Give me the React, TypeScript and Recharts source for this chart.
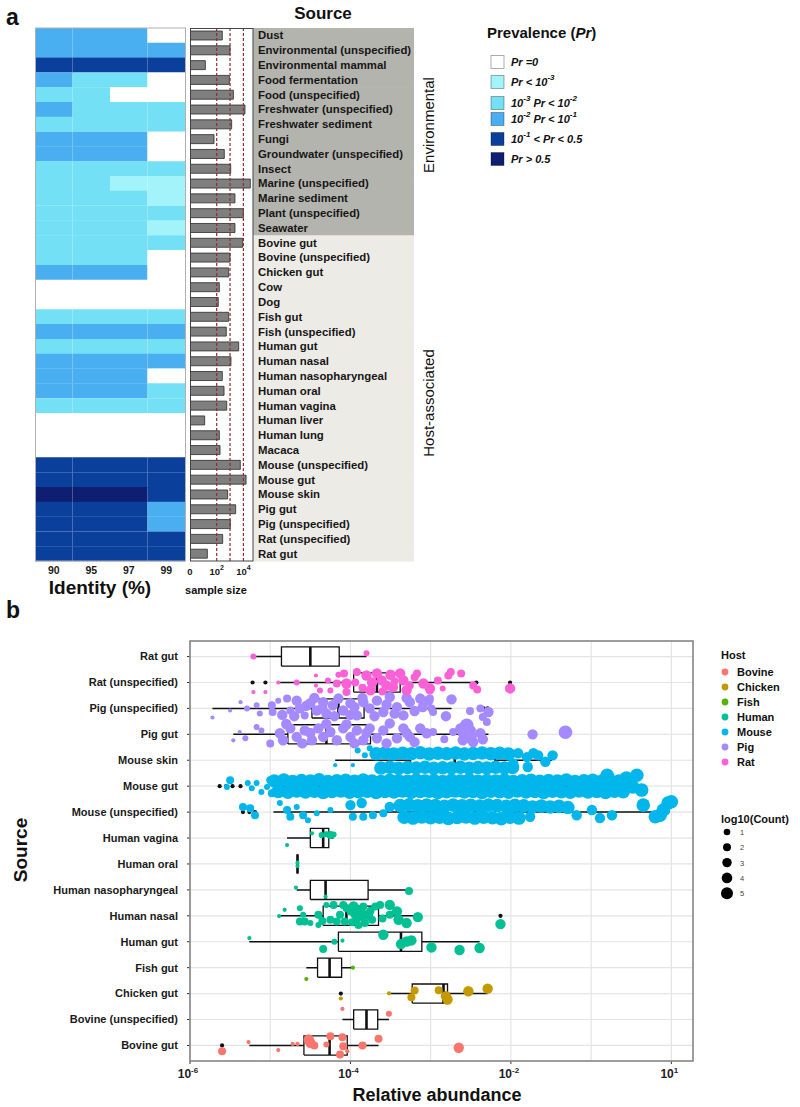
import React from 'react';
import {
  BarChart, Bar, Cell, XAxis, YAxis, ReferenceLine,
  ScatterChart, Scatter, CartesianGrid,
} from 'recharts';

const FONT = '"Liberation Sans", Arial, Helvetica, sans-serif';

// ---------- panel a ----------
const SOURCES_A = [
  'Dust', 'Environmental (unspecified)', 'Environmental mammal', 'Food fermentation',
  'Food (unspecified)', 'Freshwater (unspecified)', 'Freshwater sediment', 'Fungi',
  'Groundwater (unspecified)', 'Insect', 'Marine (unspecified)', 'Marine sediment',
  'Plant (unspecified)', 'Seawater',
  'Bovine gut', 'Bovine (unspecified)', 'Chicken gut', 'Cow', 'Dog', 'Fish gut',
  'Fish (unspecified)', 'Human gut', 'Human nasal', 'Human nasopharyngeal', 'Human oral',
  'Human vagina', 'Human liver', 'Human lung', 'Macaca', 'Mouse (unspecified)', 'Mouse gut',
  'Mouse skin', 'Pig gut', 'Pig (unspecified)', 'Rat (unspecified)', 'Rat gut',
];
const ENV_COUNT = 14;
const IDENTITY = ['90', '95', '97', '99'];

// prevalence class per source (0 = Pr 0 ... 5 = Pr > 0.5)
const PREV_90 = [3, 3, 4, 3, 2, 3, 2, 3, 3, 2, 2, 2, 2, 2, 2, 2, 3, 0, 0, 2, 3, 2, 3, 3, 3, 2, 0, 0, 0, 4, 4, 5, 4, 4, 4, 4];
const PREV_95 = [3, 3, 4, 2, 2, 2, 2, 3, 3, 2, 2, 2, 2, 2, 2, 2, 3, 0, 0, 2, 3, 2, 3, 3, 3, 2, 0, 0, 0, 4, 4, 5, 4, 4, 4, 4];
const PREV_97 = [3, 3, 4, 2, 0, 2, 2, 3, 3, 2, 1, 2, 2, 2, 2, 2, 3, 0, 0, 2, 3, 2, 3, 3, 3, 2, 0, 0, 0, 4, 4, 5, 4, 4, 4, 4];
const PREV_99 = [0, 3, 4, 0, 0, 2, 2, 0, 0, 2, 1, 1, 2, 1, 2, 0, 0, 0, 0, 2, 3, 2, 3, 0, 2, 2, 0, 0, 0, 4, 4, 4, 3, 3, 4, 4];

// log10 of sample size
const SAMPLE_LOG10 = [
  2.42, 3.0, 1.15, 2.95, 3.25, 4.12, 3.12, 1.8, 2.57, 3.05, 4.52, 3.37, 4.0, 3.37,
  3.95, 3.0, 2.9, 2.2, 2.12, 2.9, 2.72, 3.65, 3.07, 2.42, 2.55, 2.75, 1.1, 2.2, 2.25,
  3.77, 4.2, 2.82, 3.42, 3.02, 2.45, 1.3,
];
const SAMPLE_TICKS = [0, 2, 4];
const SAMPLE_TICK_EXP = ['', '2', '4'];
const SAMPLE_GUIDES = [2, 3, 4];

const PREV_COLORS = ['#ffffff', '#a3f3fb', '#74e0f6', '#4aaff0', '#0b3f9c', '#0e1f72'];
type Seg = { t: string; sup?: boolean };
const PREV_LABELS: Seg[][] = [
  [{ t: 'Pr =0' }],
  [{ t: 'Pr < 10' }, { t: '-3', sup: true }],
  [{ t: '10' }, { t: '-3', sup: true }, { t: ' Pr < 10' }, { t: '-2', sup: true }],
  [{ t: '10' }, { t: '-2', sup: true }, { t: ' Pr < 10' }, { t: '-1', sup: true }],
  [{ t: '10' }, { t: '-1', sup: true }, { t: ' < Pr < 0.5' }],
  [{ t: 'Pr > 0.5' }],
];

// ---------- panel b ----------
const SOURCES_B = [
  'Bovine gut', 'Bovine (unspecified)', 'Chicken gut', 'Fish gut', 'Human gut', 'Human nasal',
  'Human nasopharyngeal', 'Human oral', 'Human vagina', 'Mouse (unspecified)', 'Mouse gut',
  'Mouse skin', 'Pig gut', 'Pig (unspecified)', 'Rat (unspecified)', 'Rat gut',
];
const HOSTS = ['Bovine', 'Chicken', 'Fish', 'Human', 'Mouse', 'Pig', 'Rat'];
const HOST_COLORS = ['#F8766D', '#C49A00', '#53B400', '#00C094', '#00B6EB', '#A58AFF', '#FB61D7'];
const X_TICKS = [-6, -4, -2, 0];
const X_TICK_EXP = ['-6', '-4', '-2', '1'];
const X_GRID = [-6, -5, -4, -3, -2, -1, 0];

// boxplot stats, log10(relative abundance)
const BOX_LO = [-5.26, -4.10, -3.52, -4.55, -5.26, -4.89, -4.67, -4.66, -4.79, -4.96, -4.97, -4.19, -5.46, -5.72, -4.90, -5.21];
const BOX_Q1 = [-4.58, -3.96, -3.23, -4.41, -4.15, -4.34, -4.50, -4.66, -4.50, -2.90, -3.45, -3.25, -4.78, -4.48, -3.96, -4.86];
const BOX_MED = [-4.26, -3.80, -2.84, -4.26, -3.37, -4.05, -4.31, -4.66, -4.34, -2.45, -2.90, -2.70, -4.30, -4.15, -3.67, -4.50];
const BOX_Q3 = [-4.04, -3.66, -2.79, -4.11, -3.11, -3.65, -3.78, -4.66, -4.27, -1.95, -2.30, -2.20, -3.75, -3.83, -3.38, -4.14];
const BOX_HI = [-3.65, -3.52, -2.29, -3.97, -2.39, -3.16, -3.27, -4.66, -4.21, -0.02, -0.45, -1.49, -2.28, -2.74, -2.43, -3.80];
const OUTLIERS = [
  [-5.60], [], [-4.12], [], [], [-2.13], [], [], [],
  [-5.34, -5.26, -5.19], [-5.63, -5.55, -5.47, -5.37], [], [], [-2.38, -2.34, -2.29],
  [-5.22, -5.06, -2.43, -2.01], [],
];

// jittered points: [log10 abundance, vertical jitter, log10(count)]
type P = [number, number, number];
const PTS_BOVINE_GUT: P[] = [[-5.60, -0.22, 3], [-5.27, 0.13, 1], [-4.90, -0.18, 1], [-4.72, 0.06, 1], [-4.66, 0.06, 1], [-4.52, 0.23, 4], [-4.50, 0.10, 4], [-4.45, 0.0, 3], [-4.30, 0.04, 2], [-4.25, 0.35, 3], [-4.10, 0.32, 3], [-4.09, -0.03, 3], [-4.13, -0.35, 3], [-4.04, -0.22, 1], [-3.85, 0.0, 3], [-3.65, 0.26, 3], [-2.65, -0.09, 4]];
const PTS_BOVINE_UNSPEC: P[] = [[-4.10, 0.41, 1], [-3.52, 0.22, 2]];
const PTS_CHICKEN_GUT: P[] = [[-4.12, -0.19, 1], [-3.52, 0.01, 1], [-3.20, 0.12, 3], [-3.24, -0.14, 3], [-2.90, 0.13, 3], [-2.81, -0.1, 4], [-2.79, -0.23, 4], [-2.53, 0.09, 4], [-2.29, 0.19, 4]];
const PTS_FISH_GUT: P[] = [[-3.97, 0.0, 1], [-4.55, -0.44, 1]];
const PTS_HUMAN_GUT: P[] = [[-5.26, 0.14, 1], [-4.20, 0.0, 2], [-4.10, 0.04, 1], [-4.34, -0.28, 3], [-3.59, 0.27, 4], [-3.37, -0.09, 4], [-3.30, 0.01, 4], [-3.24, 0.05, 4], [-2.99, -0.22, 4], [-2.64, -0.32, 4], [-2.39, -0.24, 4]];
const PTS_HUMAN_NASAL: P[] = [[-4.89, -0.01, 1], [-4.82, 0.23, 1], [-4.63, 0.29, 2], [-4.59, 0.04, 2], [-4.57, -0.22, 3], [-4.63, -0.22, 3], [-4.50, -0.28, 2], [-4.40, -0.35, 2], [-4.40, 0.04, 3], [-4.30, 0.42, 2], [-4.25, -0.15, 3], [-4.21, 0.42, 3], [-4.17, -0.22, 3], [-4.13, 0.04, 3], [-4.09, 0.42, 3], [-4.07, -0.22, 3], [-4.00, 0.17, 3], [-3.96, 0.36, 4], [-3.92, -0.09, 3], [-3.88, 0.17, 4], [-3.84, 0.36, 3], [-3.82, -0.28, 3], [-3.78, 0.04, 4], [-3.73, -0.15, 3], [-3.69, 0.36, 3], [-3.63, 0.42, 3], [-3.51, 0.42, 4], [-3.42, 0.17, 4], [-3.40, -0.15, 4], [-3.30, -0.28, 4], [-3.16, -0.05, 4], [-2.13, -0.32, 4], [-3.51, 0.04, 3], [-4.05, 0.30, 3], [-3.90, -0.35, 3], [-3.98, -0.25, 3], [-3.86, -0.05, 3], [-3.75, 0.2, 3], [-3.95, 0.05, 3], [-4.35, -0.2, 3], [-3.60, -0.1, 3]];
const PTS_HUMAN_NASOPHAR: P[] = [[-4.68, 0.09, 1], [-4.31, -0.26, 1], [-3.27, -0.04, 3]];
const PTS_HUMAN_ORAL: P[] = [[-4.66, 0.05, 1], [-4.66, -0.08, 1]];
const PTS_HUMAN_VAGINA: P[] = [[-4.79, -0.27, 1], [-4.48, 0.18, 1], [-4.36, 0.12, 2], [-4.30, 0.15, 2], [-4.25, 0.12, 3], [-4.21, 0.14, 2]];
const PTS_MOUSE_UNSPEC: P[] = [
  [-5.34, 0.2, 3], [-5.25, 0.15, 3], [-5.19, -0.12, 3], [-4.88, 0.35, 2], [-4.79, 0.08, 3], [-4.75, -0.18, 3], [-4.67, 0.2, 2], [-4.59, -0.12, 3], [-4.53, -0.31, 2], [-4.42, -0.04, 2], [-4.25, 0.08, 2], [-4.0, 0.27, 4], [-3.86, 0.35, 4], [-3.97, -0.18, 3], [-3.84, -0.18, 3], [-3.72, -0.12, 3], [-3.59, -0.04, 3], [-3.51, 0.2, 4],
  [-3.38, 0.25, 5], [-3.27, 0.28, 5], [-3.16, 0.24, 5], [-3.05, 0.27, 5], [-2.94, 0.25, 5], [-2.83, 0.22, 5], [-2.72, 0.27, 5], [-2.61, 0.24, 5], [-2.50, 0.26, 5], [-2.39, 0.23, 5], [-2.28, 0.27, 5], [-2.17, 0.25, 5], [-2.06, 0.22, 5], [-1.95, 0.26, 5], [-1.84, 0.24, 5], [-1.73, 0.2, 5], [-1.62, 0.23, 5], [-1.51, 0.2, 5], [-1.40, 0.22, 5], [-1.29, 0.18, 5],
  [-3.33, -0.2, 5], [-3.22, -0.23, 5], [-3.11, -0.19, 5], [-3.00, -0.22, 5], [-2.89, -0.2, 5], [-2.78, -0.24, 5], [-2.67, -0.21, 5], [-2.56, -0.19, 5], [-2.45, -0.23, 5], [-2.34, -0.2, 5], [-2.23, -0.22, 5], [-2.12, -0.25, 5], [-2.01, -0.2, 5], [-1.90, -0.23, 5],
  [-1.76, -0.18, 4], [-1.18, -0.12, 4], [-0.99, 0.08, 4], [-0.89, -0.23, 4], [-0.74, -0.12, 4], [-0.35, 0.27, 5], [-0.20, -0.18, 5], [-0.10, 0.08, 5], [-0.04, 0.35, 5], [0.0, 0.4, 5], [-0.14, -0.12, 5],
];
const PTS_MOUSE_GUT: P[] = [
  [-5.54, -0.03, 2], [-5.50, 0.23, 3], [-5.28, 0.12, 2], [-5.23, -0.08, 2], [-5.17, 0.12, 2], [-5.11, -0.22, 2], [-5.04, -0.03, 2], [-5.00, 0.23, 3], [-4.98, -0.27, 3],
  [-4.95, 0.2, 5], [-4.83, 0.24, 5], [-4.72, 0.18, 5], [-4.61, 0.22, 5], [-4.50, 0.2, 5], [-4.39, 0.25, 5], [-4.28, 0.18, 5], [-4.17, 0.21, 5], [-4.06, 0.23, 5], [-3.95, 0.19, 5], [-3.84, 0.24, 5], [-3.73, 0.2, 5], [-3.62, 0.18, 5], [-3.51, 0.23, 5], [-3.40, 0.21, 5], [-3.29, 0.19, 5], [-3.18, 0.24, 5], [-3.07, 0.2, 5], [-2.96, 0.22, 5], [-2.85, 0.18, 5], [-2.74, 0.23, 5], [-2.63, 0.2, 5], [-2.52, 0.25, 5], [-2.41, 0.19, 5], [-2.30, 0.22, 5], [-2.19, 0.2, 5], [-2.08, 0.24, 5], [-1.97, 0.18, 5], [-1.86, 0.21, 5], [-1.75, 0.23, 5], [-1.64, 0.19, 5], [-1.53, 0.22, 5], [-1.42, 0.2, 5], [-1.31, 0.24, 5], [-1.20, 0.18, 5], [-1.09, 0.21, 5], [-0.98, 0.23, 5], [-0.87, 0.19, 5], [-0.76, 0.22, 5], [-0.65, 0.2, 5], [-0.54, 0.18, 5],
  [-4.90, -0.2, 5], [-4.78, -0.23, 5], [-4.67, -0.18, 5], [-4.56, -0.22, 5], [-4.45, -0.19, 5], [-4.34, -0.24, 5], [-4.23, -0.2, 5], [-4.12, -0.18, 5], [-4.01, -0.23, 5], [-3.90, -0.21, 5], [-3.79, -0.19, 5], [-3.68, -0.24, 5], [-3.57, -0.2, 5], [-3.46, -0.22, 5], [-3.35, -0.18, 5], [-3.24, -0.23, 5], [-3.13, -0.2, 5], [-3.02, -0.19, 5], [-2.91, -0.24, 5], [-2.80, -0.21, 5], [-2.69, -0.18, 5], [-2.58, -0.22, 5], [-2.47, -0.2, 5], [-2.36, -0.24, 5], [-2.25, -0.19, 5], [-2.14, -0.21, 5], [-2.03, -0.23, 5], [-1.92, -0.18, 5], [-1.81, -0.22, 5], [-1.70, -0.2, 5], [-1.59, -0.24, 5], [-1.48, -0.19, 5], [-1.37, -0.21, 5], [-1.26, -0.23, 5], [-1.15, -0.18, 5], [-1.04, -0.22, 5], [-0.93, -0.2, 5], [-0.82, -0.24, 5], [-0.71, -0.19, 5], [-0.60, -0.21, 5],
  [-0.43, 0.42, 5], [-0.37, -0.15, 5], [-0.48, -0.03, 5], [-0.56, 0.31, 5], [-0.64, 0.12, 5], [-0.80, 0.42, 5],
];
const PTS_MOUSE_SKIN: P[] = [
  [-3.91, 0.38, 2], [-3.76, 0.46, 2], [-3.82, 0.19, 2], [-4.19, -0.19, 1], [-3.97, -0.19, 1],
  [-3.68, 0.25, 5], [-3.57, 0.28, 5], [-3.46, 0.24, 5], [-3.35, 0.27, 5], [-3.24, 0.25, 5], [-3.13, 0.29, 5], [-3.02, 0.24, 5], [-2.91, 0.27, 5], [-2.80, 0.25, 5], [-2.69, 0.28, 5], [-2.58, 0.24, 5], [-2.47, 0.26, 5], [-2.36, 0.28, 5], [-2.25, 0.25, 5], [-2.14, 0.27, 5], [-2.03, 0.24, 5],
  [-3.62, -0.3, 5], [-3.51, -0.27, 5], [-3.40, -0.31, 5], [-3.29, -0.28, 5], [-3.18, -0.3, 5], [-3.07, -0.27, 5], [-2.96, -0.31, 5], [-2.85, -0.29, 5], [-2.74, -0.3, 5], [-2.63, -0.27, 5], [-2.52, -0.31, 5], [-2.41, -0.28, 5], [-2.30, -0.3, 5], [-2.19, -0.27, 5], [-2.08, -0.3, 5], [-1.98, -0.28, 5],
  [-1.91, 0.27, 4], [-1.80, 0.12, 4], [-1.72, 0.27, 4], [-1.66, 0.19, 4], [-1.57, -0.06, 4], [-1.48, 0.19, 4], [-1.97, -0.12, 4], [-1.79, -0.26, 4],
];
const PTS_PIG_GUT: P[] = [
  [-5.46, -0.23, 1], [-5.38, 0.09, 1], [-5.31, -0.15, 2], [-5.17, 0.28, 2], [-5.11, 0.15, 2], [-5.00, -0.35, 3], [-4.88, 0.04, 4], [-4.84, -0.23, 4], [-4.75, 0.23, 4], [-4.67, -0.1, 4], [-4.57, 0.15, 4], [-4.48, -0.23, 4], [-4.40, 0.23, 4], [-4.34, -0.1, 4], [-4.25, 0.09, 4], [-4.17, -0.23, 4], [-4.09, 0.23, 4], [-4.00, -0.1, 4], [-3.92, 0.15, 4], [-3.84, -0.23, 4], [-3.76, 0.23, 4], [-3.67, -0.15, 4], [-3.59, 0.15, 4], [-3.51, 0.42, 4], [-3.42, -0.15, 4], [-3.34, 0.23, 4], [-3.26, -0.1, 4], [-3.13, 0.23, 4], [-3.05, 0.04, 4], [-2.97, 0.09, 3], [-2.83, -0.19, 3], [-2.72, 0.09, 3], [-2.63, 0.23, 4], [-2.55, 0.35, 5], [-2.51, -0.1, 5], [-2.60, -0.23, 4], [-2.47, -0.3, 4], [-2.38, 0.04, 4], [-2.35, -0.19, 4], [-1.73, 0.0, 4], [-1.32, 0.08, 5],
  [-4.80, 0.4, 4], [-4.60, -0.35, 4], [-4.30, 0.4, 4], [-4.05, 0.38, 4], [-3.80, 0.05, 4], [-3.55, -0.35, 4], [-3.30, 0.05, 4], [-3.20, -0.3, 4], [-4.50, 0.05, 4], [-3.95, -0.35, 4], [-2.60, 0.05, 4], [-2.50, 0.15, 4],
];
const PTS_PIG_UNSPEC: P[] = [
  [-5.72, -0.35, 1], [-5.50, -0.08, 1], [-5.37, 0.24, 1], [-5.29, 0.0, 2], [-5.17, 0.12, 2], [-5.13, -0.2, 2], [-4.98, 0.12, 3], [-4.97, -0.14, 3], [-4.90, 0.3, 2], [-4.79, 0.38, 3], [-4.75, -0.08, 3], [-4.67, 0.3, 4], [-4.63, 0.0, 4], [-4.57, -0.27, 3], [-4.50, 0.2, 4], [-4.42, -0.08, 4], [-4.34, 0.24, 4], [-4.30, -0.2, 4], [-4.22, 0.12, 4], [-4.15, 0.38, 4], [-4.09, -0.08, 4], [-4.00, 0.2, 4], [-3.92, -0.27, 4], [-3.84, 0.24, 4], [-3.76, 0.0, 4], [-3.67, 0.3, 4], [-3.59, -0.14, 4], [-3.51, 0.44, 4], [-3.42, 0.05, 4], [-3.34, -0.27, 4], [-3.26, 0.24, 4], [-3.13, 0.38, 4], [-3.03, 0.3, 4], [-2.97, -0.14, 3], [-3.01, 0.38, 3], [-2.74, 0.35, 4], [-2.99, 0.0, 3], [-2.81, -0.3, 4], [-2.51, -0.1, 3], [-2.38, 0.0, 3], [-2.28, -0.14, 4], [-2.35, -0.33, 3], [-2.30, -0.52, 3],
  [-4.85, -0.25, 4], [-4.70, -0.3, 4], [-4.45, 0.4, 4], [-4.20, -0.3, 4], [-4.00, -0.25, 4], [-3.85, 0.4, 4], [-3.70, -0.3, 4], [-3.55, 0.15, 4], [-3.30, 0.4, 4], [-3.20, -0.1, 4], [-3.10, 0.05, 4], [-4.55, 0.1, 4], [-4.35, 0.0, 4], [-3.95, 0.05, 4], [-3.45, -0.2, 4],
];
const PTS_RAT_UNSPEC: P[] = [
  [-4.90, 0.0, 1], [-5.21, -0.37, 1], [-5.06, -0.37, 1], [-4.67, 0.0, 2], [-4.43, 0.27, 1], [-4.43, -0.12, 1], [-4.38, -0.31, 2], [-4.28, 0.08, 2], [-4.17, -0.04, 3], [-4.25, -0.31, 2], [-4.08, 0.35, 3], [-4.05, -0.04, 4], [-4.05, -0.37, 3], [-3.94, 0.0, 3], [-3.92, 0.4, 3], [-3.80, 0.27, 4], [-3.73, 0.0, 4], [-3.67, 0.35, 4], [-3.61, 0.08, 4], [-3.55, -0.12, 4], [-3.47, -0.18, 4], [-3.38, 0.35, 4], [-3.34, 0.08, 4], [-3.26, -0.12, 3], [-3.17, 0.35, 3], [-3.09, -0.04, 4], [-3.01, -0.23, 4], [-3.01, -0.31, 3], [-2.91, 0.08, 3], [-2.85, -0.23, 2], [-2.78, 0.27, 3], [-2.75, 0.4, 3], [-2.62, 0.35, 3], [-2.47, -0.12, 3], [-2.42, -0.27, 3], [-2.01, -0.23, 4],
  [-3.75, -0.3, 4], [-3.50, 0.3, 4], [-3.30, -0.3, 4], [-3.20, 0.2, 3], [-3.60, -0.35, 3], [-3.85, -0.2, 3], [-4.15, 0.3, 2], [-3.45, 0.05, 3],
];
const PTS_RAT_GUT: P[] = [[-5.21, 0.0, 2], [-3.80, 0.13, 2]];

const POINTS_B: P[][] = [
  PTS_BOVINE_GUT, PTS_BOVINE_UNSPEC, PTS_CHICKEN_GUT, PTS_FISH_GUT, PTS_HUMAN_GUT, PTS_HUMAN_NASAL,
  PTS_HUMAN_NASOPHAR, PTS_HUMAN_ORAL, PTS_HUMAN_VAGINA, PTS_MOUSE_UNSPEC, PTS_MOUSE_GUT,
  PTS_MOUSE_SKIN, PTS_PIG_GUT, PTS_PIG_UNSPEC, PTS_RAT_UNSPEC, PTS_RAT_GUT,
];

const R_PLOT = [0, 2.1, 3, 4, 5.2, 6.8];
const R_LEGEND = [3.3, 4, 4.7, 5.3, 6];
const BOX_HALF = 0.37;
const ROW_H = 533 / SOURCES_A.length;

const supSegs = (list: Seg[], supSize = 8, shift = 6) => {
  let prevSup = false;
  return list.map((s, i) => {
    const dy = s.sup ? -shift : prevSup ? shift : 0;
    prevSup = !!s.sup;
    return (
      <tspan key={i} dy={dy} fontSize={s.sup ? supSize : undefined} style={{ whiteSpace: 'pre' }}>
        {s.t}
      </tspan>
    );
  });
};

const SourceTick = (props: any) => {
  const { x, y, payload } = props;
  const i = SOURCES_A.indexOf(payload.value);
  return (
    <g>
      <rect x={x} y={y - ROW_H / 2} width={161} height={ROW_H + 0.6} fill={i < ENV_COUNT ? '#b4b4ae' : '#edebe6'} />
      <text x={x + 5} y={y + 4} fontFamily={FONT} fontSize={11.4} fontWeight="bold" fill="#161616">
        {payload.value}
      </text>
    </g>
  );
};

const SampleTick = (props: any) => {
  const { x, y, payload } = props;
  const exp = SAMPLE_TICK_EXP[SAMPLE_TICKS.indexOf(payload.value)];
  return (
    <text x={x} y={y + 12} textAnchor="middle" fontFamily={FONT} fontSize={9.5} fontWeight="bold" fill="#1a1a1a">
      {exp ? '10' : '0'}
      {exp ? <tspan dy={-5} fontSize={7}>{exp}</tspan> : null}
    </text>
  );
};

const XTickB = (props: any) => {
  const { x, y, payload } = props;
  const exp = X_TICK_EXP[X_TICKS.indexOf(payload.value)];
  return (
    <text x={x - 2} y={y + 12} textAnchor="middle" fontFamily={FONT} fontSize={12} fontWeight="bold" fill="#222">
      10<tspan dy={-5} fontSize={8}>{exp}</tspan>
    </text>
  );
};

const dotShape = (color: string) => (props: any) => {
  const { cx, cy, payload } = props;
  if (cx == null || cy == null) return <g />;
  return <circle cx={cx} cy={cy} r={R_PLOT[payload.s]} fill={color} />;
};
const noDot = () => <g />;

export default function App() {
  const rowsA = SOURCES_A.map((source, i) => ({
    source,
    codes: [PREV_90[i], PREV_95[i], PREV_97[i], PREV_99[i]],
    n: SAMPLE_LOG10[i],
  }));

  const hostOf = (src: string) => HOSTS.indexOf(src.split(' ')[0]);
  const hostData = HOSTS.map((_, h) =>
    SOURCES_B.flatMap((src, i) =>
      hostOf(src) === h ? POINTS_B[i].map(([x, dy, s]) => ({ x, y: i + 1 + dy, s })) : [],
    ),
  );
  const outlierData = OUTLIERS.flatMap((list, i) => list.map((x) => ({ x, y: i + 1, s: 1 })));
  const yTicks = SOURCES_B.map((_, i) => i + 1);

  // boxplots drawn as scatter outlines so the jittered points sit on top
  const boxEls = SOURCES_B.flatMap((src, i) => {
    const y = i + 1;
    const lo = y - BOX_HALF;
    const hi = y + BOX_HALF;
    return [
      <Scatter key={`w${i}`} data={[{ x: BOX_LO[i], y }, { x: BOX_HI[i], y }]} shape={noDot}
        line={{ stroke: '#111', strokeWidth: 1.5 }} legendType="none" isAnimationActive={false} />,
      <Scatter key={`b${i}`}
        data={[{ x: BOX_Q1[i], y: lo }, { x: BOX_Q3[i], y: lo }, { x: BOX_Q3[i], y: hi }, { x: BOX_Q1[i], y: hi }, { x: BOX_Q1[i], y: lo }]}
        shape={noDot} line={{ stroke: '#111', strokeWidth: 1.3, fill: '#ffffff' }} legendType="none" isAnimationActive={false} />,
      <Scatter key={`m${i}`} data={[{ x: BOX_MED[i], y: lo }, { x: BOX_MED[i], y: hi }]} shape={noDot}
        line={{ stroke: '#111', strokeWidth: 2.6 }} legendType="none" isAnimationActive={false} />,
    ];
  });

  return (
    <div style={{ position: 'absolute', left: 0, top: 0, width: 800, height: 1107, background: '#fff', fontFamily: FONT }}>
      {/* heatmap of prevalence */}
      <div style={{ position: 'absolute', left: 35, top: 28 }}>
        <BarChart width={150} height={555} data={rowsA} layout="vertical" barCategoryGap={0}
          margin={{ top: 0, right: 0, bottom: 0, left: 0 }}>
          <XAxis type="number" domain={[0, 4]} ticks={[0.5, 1.5, 2.5, 3.5]} allowDataOverflow
            tickFormatter={(v: number) => IDENTITY[Math.floor(v)]} axisLine={false} tickLine={false}
            tickSize={0} tickMargin={6} height={22} interval={0}
            tick={{ fontSize: 10.5, fontWeight: 'bold', fill: '#1a1a1a', fontFamily: FONT }} />
          <YAxis type="category" dataKey="source" hide />
          {IDENTITY.map((id, j) => (
            <Bar key={id} dataKey={() => 1} stackId="h" isAnimationActive={false}>
              {rowsA.map((r) => <Cell key={r.source} fill={PREV_COLORS[r.codes[j]]} />)}
            </Bar>
          ))}
        </BarChart>
      </div>

      {/* sample size bars + source labels */}
      <div style={{ position: 'absolute', left: 180, top: 28 }}>
        <BarChart width={234} height={555} data={rowsA} layout="vertical"
          margin={{ top: 0, right: 0, bottom: 0, left: 10 }}>
          <XAxis type="number" domain={[0, 4.72]} ticks={SAMPLE_TICKS} allowDataOverflow axisLine={false}
            tickLine={false} tickSize={0} tickMargin={2} height={22} interval={0} tick={SampleTick} />
          <YAxis type="category" dataKey="source" orientation="right" width={161} axisLine={false}
            tickLine={false} tickSize={0} tickMargin={0} interval={0} tick={SourceTick} />
          <Bar dataKey="n" fill="#7f7f7f" stroke="#2b2b2b" strokeWidth={0.8} barSize={9} isAnimationActive={false} />
          {SAMPLE_GUIDES.map((v) => (
            <ReferenceLine key={v} x={v} stroke="#8f2d2d" strokeDasharray="3 2" strokeWidth={1.2} />
          ))}
        </BarChart>
      </div>

      {/* panel b */}
      <div style={{ position: 'absolute', left: 0, top: 631 }}>
        <ScatterChart width={700} height={460} margin={{ top: 10, right: 7, bottom: 0, left: 0 }}>
          <CartesianGrid stroke="#e4e4e4" strokeWidth={1.2} horizontalValues={yTicks} verticalValues={X_GRID} />
          <XAxis type="number" dataKey="x" domain={[-6, 0.27]} ticks={X_TICKS} allowDataOverflow axisLine={false}
            tickSize={3} tickLine={{ stroke: '#333' }} height={30} interval={0} tick={XTickB} />
          <YAxis type="number" dataKey="y" domain={[0.4, 16.6]} ticks={yTicks} allowDataOverflow axisLine={false}
            tickSize={3} tickMargin={9} tickLine={{ stroke: '#333' }} width={190} interval={0}
            tickFormatter={(v: number) => SOURCES_B[v - 1]}
            tick={{ fontSize: 11, fontWeight: 'bold', fill: '#1a1a1a', fontFamily: FONT }} />
          {boxEls}
          <Scatter data={outlierData} shape={dotShape('#111')} legendType="none" isAnimationActive={false} />
          {HOSTS.map((h, k) => (
            <Scatter key={h} name={h} data={hostData[k]} shape={dotShape(HOST_COLORS[k])} isAnimationActive={false} />
          ))}
        </ScatterChart>
      </div>

      {/* frames, titles and legends */}
      <svg width={800} height={1107} style={{ position: 'absolute', left: 0, top: 0, pointerEvents: 'none' }} fontFamily={FONT}>
        <rect x={35.5} y={28} width={150} height={533} fill="none" stroke="#b0b0b0" strokeWidth={1} />
        <rect x={190.5} y={28.5} width={62.5} height={532.5} fill="none" stroke="#444" strokeWidth={1} />
        <rect x={190} y={641} width={503} height={420} fill="none" stroke="#858585" strokeWidth={1.6} />

        <text x={6} y={25} fontSize={23} fontWeight="bold" fill="#111">a</text>
        <text x={6} y={618} fontSize={23} fontWeight="bold" fill="#111">b</text>
        <text x={323} y={19} textAnchor="middle" fontSize={17} fontWeight="bold" fill="#111">Source</text>
        <text x={100} y={594} textAnchor="middle" fontSize={19} fontWeight="bold" fill="#111">Identity (%)</text>
        <text x={216} y={594} textAnchor="middle" fontSize={11} fontWeight="bold" fill="#111">sample size</text>
        <text x={434} y={125} textAnchor="middle" fontSize={15} fill="#111" transform="rotate(-90 434 125)">Environmental</text>
        <text x={434} y={403} textAnchor="middle" fontSize={15} fill="#111" transform="rotate(-90 434 403)">Host-associated</text>

        <text x={487} y={38} fontSize={15} fontWeight="bold" fill="#111">
          Prevalence (<tspan fontStyle="italic">Pr</tspan>)
        </text>
        {PREV_LABELS.map((lab, k) => {
          const cy = [62, 82, 103, 119, 139, 159][k];
          return (
            <g key={k}>
              <rect x={491} y={cy - 6.5} width={13} height={13} fill={PREV_COLORS[k]} stroke="rgba(0,0,0,0.4)" strokeWidth={0.8} />
              <text x={511} y={cy + 4} fontSize={11} fontWeight="bold" fontStyle="italic" fill="#111">
                {supSegs(lab)}
              </text>
            </g>
          );
        })}

        <text x={27} y={850} textAnchor="middle" fontSize={19} fontWeight="bold" fill="#111" transform="rotate(-90 27 850)">Source</text>
        <text x={437} y={1101} textAnchor="middle" fontSize={18} fontWeight="bold" fill="#111">Relative abundance</text>

        <text x={721} y={659} fontSize={11} fontWeight="bold" fill="#111">Host</text>
        {HOSTS.map((h, k) => (
          <g key={h}>
            <circle cx={725} cy={672 + k * 15} r={3.4} fill={HOST_COLORS[k]} />
            <text x={737} y={676 + k * 15} fontSize={11} fontWeight="bold" fill="#111">{h}</text>
          </g>
        ))}
        <text x={721} y={823} fontSize={11} fontWeight="bold" fill="#111">log10(Count)</text>
        {R_LEGEND.map((r, k) => (
          <g key={k}>
            <circle cx={727} cy={832 + k * 15.3} r={r} fill="#000" />
            <text x={740} y={835 + k * 15.3} fontSize={7.5} fill="#444">{k + 1}</text>
          </g>
        ))}
      </svg>
    </div>
  );
}
